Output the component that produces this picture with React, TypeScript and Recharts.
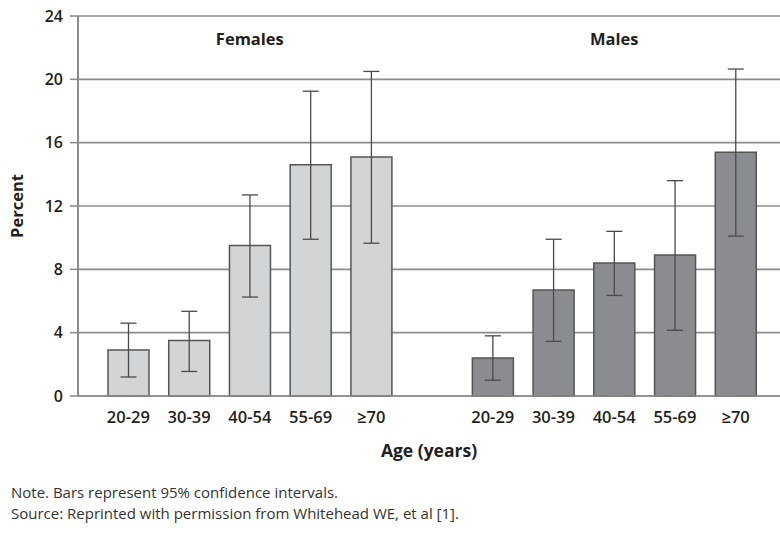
import React from 'react';
import { BarChart, Bar, XAxis, YAxis, CartesianGrid, ErrorBar, Cell, ReferenceLine } from 'recharts';

const ageLabels = ['20-29', '30-39', '40-54', '55-69', '≥70'];
const femaleValues = [2.9, 3.5, 9.5, 14.6, 15.1];
const femaleLow = [1.2, 1.55, 6.25, 9.9, 9.65];
const femaleHigh = [4.6, 5.35, 12.7, 19.25, 20.5];
const maleValues = [2.4, 6.7, 8.4, 8.9, 15.4];
const maleLow = [1.0, 3.45, 6.35, 4.15, 10.1];
const maleHigh = [3.8, 9.9, 10.4, 13.6, 20.65];
const yTicks = [0, 4, 8, 12, 16, 20, 24];

type Row = { key: string; label: string; sex: string; value: number | null; err?: number[] };

const data: Row[] = [
  ...ageLabels.map((l, i) => ({
    key: 'F' + i,
    label: l,
    sex: 'F',
    value: femaleValues[i],
    err: [femaleValues[i] - femaleLow[i], femaleHigh[i] - femaleValues[i]],
  })),
  { key: 'gap', label: '', sex: '', value: null },
  ...ageLabels.map((l, i) => ({
    key: 'M' + i,
    label: l,
    sex: 'M',
    value: maleValues[i],
    err: [maleValues[i] - maleLow[i], maleHigh[i] - maleValues[i]],
  })),
];

const labelMap: Record<string, string> = {};
data.forEach((d) => (labelMap[d.key] = d.label));

const FONT = '"Open Sans", sans-serif';
const TEXT = '#231f20';
const GRID = '#8c8c8c';

export default function App() {
  return (
    <div style={{ position: 'absolute', left: 0, top: 0, width: 780, height: 534, background: '#fff', fontFamily: FONT }}>
      <BarChart width={780} height={470} data={data} margin={{ top: 16, right: 0, bottom: 13, left: 0 }}>
        <CartesianGrid vertical={false} stroke={GRID} strokeWidth={1.6} />
        <XAxis
          dataKey="key"
          interval={0}
          tickFormatter={(v: string) => labelMap[v] ?? ''}
          padding={{ left: 20, right: 14 }}
          tickLine={false}
          tickSize={6}
          tickMargin={9}
          axisLine={{ stroke: GRID, strokeWidth: 1.6 }}
          height={61}
          tick={{ fill: TEXT, fontSize: 16.5, fontWeight: 600, fontFamily: FONT }}
          label={{ value: 'Age (years)', position: 'insideBottom', offset: 0, fill: TEXT, fontSize: 17.5, fontWeight: 700, fontFamily: FONT }}
        />
        <YAxis
          domain={[0, 24]}
          ticks={yTicks}
          width={78}
          tickSize={8}
          tickMargin={7}
          axisLine={{ stroke: GRID, strokeWidth: 2 }}
          tickLine={{ stroke: GRID, strokeWidth: 1.6 }}
          tick={{ fill: TEXT, fontSize: 16, fontWeight: 600, fontFamily: FONT }}
          label={{ value: 'Percent', angle: -90, position: 'center', dx: -22, fill: TEXT, fontSize: 16.5, fontWeight: 700, fontFamily: FONT }}
        />
        <ReferenceLine
          x="F2"
          stroke="#fff"
          strokeOpacity={0}
          label={{ value: 'Females', position: 'insideTop', offset: 17, fill: TEXT, fontSize: 16.5, fontWeight: 700, fontFamily: FONT }}
        />
        <ReferenceLine
          x="M2"
          stroke="#fff"
          strokeOpacity={0}
          label={{ value: 'Males', position: 'insideTop', offset: 17, fill: TEXT, fontSize: 16.5, fontWeight: 700, fontFamily: FONT }}
        />
        <Bar dataKey="value" barSize={41} stroke="#555" strokeWidth={1.5} isAnimationActive={false}>
          {data.map((d) => (
            <Cell key={d.key} fill={d.sex === 'M' ? '#8b8c8f' : '#d3d4d6'} />
          ))}
          <ErrorBar dataKey="err" width={8} stroke="#4a4a4a" strokeWidth={1.3} direction="y" />
        </Bar>
      </BarChart>
      <div style={{ marginTop: 12, paddingLeft: 11, fontSize: 15, lineHeight: '21px', color: '#333', fontFamily: FONT }}>
        <div>Note. Bars represent 95% confidence intervals.</div>
        <div>Source: Reprinted with permission from Whitehead WE, et al [1].</div>
      </div>
    </div>
  );
}
